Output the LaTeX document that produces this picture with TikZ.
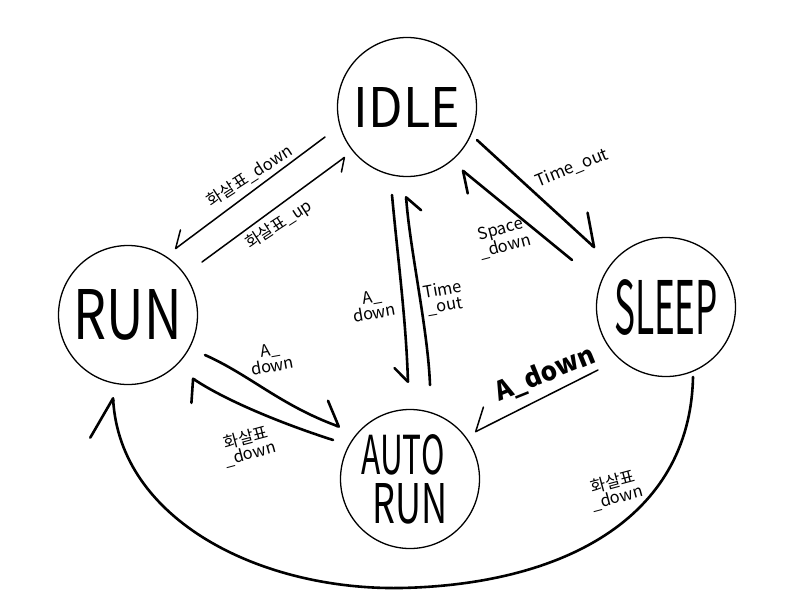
\documentclass[tikz,border=0pt]{standalone}
\usepackage{fontspec}
\setmainfont{Noto Sans CJK KR}
\usetikzlibrary{arrows.meta}
\begin{document}
\begin{tikzpicture}[x=1pt,y=-1pt,
  state/.style={circle,draw,line width=1.3pt,minimum size=139pt,inner sep=0pt},
  conn/.style={line width=2.6pt,line cap=round,line join=round},
  thinconn/.style={line width=1.5pt,line cap=round,line join=round},
  lbl/.style={font=\fontsize{16.5}{16}\selectfont,inner sep=1pt,align=center},
  hl/.style 2 args={-{Straight Barb[harpoon,round,length=#1pt,width=#2pt]}},
  hr/.style 2 args={-{Straight Barb[harpoon,swap,round,length=#1pt,width=#2pt]}},
]
\useasboundingbox[fill=white] (0,0) rectangle (800,600);

% states
\node[state] (idle) at (407,107) {\resizebox{106pt}{40pt}{IDLE}};
\node[state] (run) at (128,315) {\resizebox{108pt}{50pt}{RUN}};
\node[state] (sleep) at (666,307) {\resizebox{104pt}{55pt}{SLEEP}};
\node[state,align=center] (auto) at (410,479)
  {\hspace*{-14pt}\resizebox{83pt}{40pt}{AUTO}\\[7pt]\resizebox{75pt}{40pt}{RUN}};

% connector end points
\coordinate (e1s) at (325,137); \coordinate (e1t) at (175,249);
\coordinate (e2s) at (202,262); \coordinate (e2t) at (345,157);
\coordinate (e3s) at (392,195); \coordinate (e3t) at (408,383);
\coordinate (e4s) at (430,385); \coordinate (e4t) at (406,196);
\coordinate (e5s) at (477,140); \coordinate (e5t) at (595,248);
\coordinate (e6s) at (572,260); \coordinate (e6t) at (462,170);
\coordinate (e7s) at (598,370); \coordinate (e7t) at (475,432);
\coordinate (e8s) at (205,355); \coordinate (e8t) at (340,427);
\coordinate (e9s) at (333,440); \coordinate (e9t) at (192,378);
\coordinate (e10s) at (693,377); \coordinate (e10m) at (400,588); \coordinate (e10t) at (113,397);

% IDLE <-> RUN
\draw[thinconn,hr={15}{24}] (e1s) -- (e1t);
\node[lbl,rotate=33] (l1) at (250,176) {화살표\_down};
\draw[thinconn,hr={11}{20}] (e2s) -- (e2t);
\node[lbl,rotate=33] (l2) at (279,225) {화살표\_up};

% IDLE <-> AUTO RUN
\draw[conn,hr={14}{26}] (e3s) .. controls (398,260) and (406,320) .. (e3t);
\node[lbl,rotate=10] (l3) at (373,305) {A\_\\down};
\draw[conn,hr={14}{28}] (e4s) .. controls (428,330) and (410,250) .. (e4t);
\node[lbl,rotate=10] (l4) at (444,298) {Time\\\_out};

% IDLE <-> SLEEP
\draw[conn,hl={28}{42}] (e5s) -- (e5t);
\node[lbl,rotate=22,font=\fontsize{17}{17}\selectfont] (l5) at (572,168) {Time\_out};
\draw[conn,hl={18}{29}] (e6s) -- (e6t);
\node[lbl,rotate=15] (l6) at (503,238) {Space\\\_down};

% SLEEP -> AUTO RUN
\draw[thinconn,hr={18}{37}] (e7s) -- (e7t);
\node[lbl,rotate=22,font=\fontsize{26}{26}\selectfont\bfseries] (l7) at (545,374) {A\_down};

% RUN <-> AUTO RUN
\draw[conn,hl={19}{41}] (e8s) .. controls (250,375) and (280,405) .. (e8t);
\node[lbl,rotate=10] (l8) at (271,358) {A\_\\down};
\draw[conn,hl={12}{42}] (e9s) .. controls (280,423) and (225,400) .. (e9t);
\node[lbl,rotate=15] (l9) at (248,446) {화살표\\\_down};

% SLEEP -> RUN loop
\draw[conn,hl={38}{50}] (e10s) .. controls (690,520) and (560,585) .. (e10m)
  .. controls (260,590) and (120,520) .. (e10t);
\node[lbl,rotate=15] (l10) at (615,490) {화살표\\\_down};
\end{tikzpicture}
\end{document}
